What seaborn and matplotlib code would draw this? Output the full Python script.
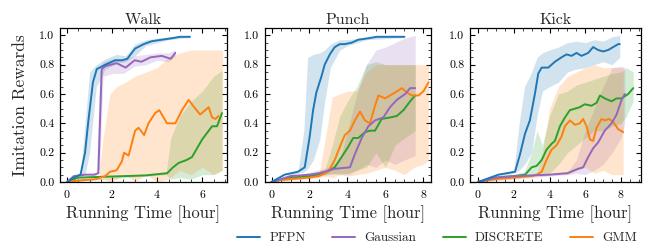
import numpy as np
import pandas as pd
import matplotlib
matplotlib.use("Agg")
import matplotlib.pyplot as plt
import seaborn as sns
from matplotlib.ticker import AutoMinorLocator

# ---------------- data ----------------
tasks = ["Walk", "Punch", "Kick"]
methods = ["PFPN", "Gaussian", "DISCRETE", "GMM"]
colors = {"PFPN": "#1f77b4", "Gaussian": "#9467bd", "DISCRETE": "#2ca02c", "GMM": "#ff7f0e"}

# Walk
walk_pfpn_x = [0, 0.3, 0.6, 0.8, 0.95, 1.15, 1.32, 1.7, 2.14, 2.44, 2.67, 3.02, 3.4, 3.76, 4.2, 4.65, 5.0, 5.45]
walk_pfpn_y = [0, 0.03, 0.05, 0.2, 0.42, 0.68, 0.77, 0.80, 0.83, 0.83, 0.84, 0.91, 0.94, 0.96, 0.97, 0.98, 0.99, 0.99]
walk_pfpn_bx = [0, 0.6, 0.8, 1.0, 1.3, 1.7, 2.2, 2.6, 3.0, 3.5, 4.5, 5.45]
walk_pfpn_lo = [0, 0.03, 0.05, 0.2, 0.65, 0.77, 0.81, 0.82, 0.86, 0.93, 0.97, 0.985]
walk_pfpn_hi = [0, 0.06, 0.4, 0.75, 0.80, 0.84, 0.87, 0.86, 0.94, 0.97, 0.99, 1.0]

walk_gauss_x = [0, 0.3, 0.8, 1.2, 1.39, 1.47, 1.54, 1.7, 2.2, 2.6, 3.0, 3.3, 3.7, 4.2, 4.6, 4.8]
walk_gauss_y = [0, 0.04, 0.05, 0.05, 0.06, 0.45, 0.77, 0.79, 0.81, 0.78, 0.83, 0.82, 0.85, 0.86, 0.84, 0.88]
walk_gauss_bx = [0, 1.3, 1.45, 1.6, 2.0, 2.5, 3.0, 3.5, 4.0, 4.5, 4.8]
walk_gauss_lo = [0, 0.04, 0.1, 0.72, 0.74, 0.74, 0.79, 0.80, 0.83, 0.82, 0.86]
walk_gauss_hi = [0, 0.06, 0.75, 0.82, 0.84, 0.84, 0.86, 0.87, 0.88, 0.88, 0.90]

walk_disc_x = [0, 0.5, 1.5, 2.5, 3.5, 4.44, 4.7, 4.95, 5.3, 5.54, 5.99, 6.43, 6.65, 6.87]
walk_disc_y = [0, 0.03, 0.035, 0.04, 0.045, 0.06, 0.10, 0.13, 0.15, 0.17, 0.29, 0.38, 0.38, 0.47]
walk_disc_bx = [0, 4.4, 4.6, 5.0, 5.5, 6.0, 6.5, 6.87]
walk_disc_lo = [0, 0.05, 0.02, 0.03, 0.02, 0.05, 0.05, 0.08]
walk_disc_hi = [0, 0.07, 0.3, 0.45, 0.55, 0.62, 0.72, 0.76]

walk_gmm_x = [0, 0.5, 1.3, 1.69, 1.91, 2.2, 2.43, 2.53, 2.73, 3.02, 3.17, 3.42, 3.61, 3.91, 4.09, 4.28, 4.43, 4.8, 5.1, 5.39, 5.69, 5.9, 6.28, 6.43, 6.58, 6.72]
walk_gmm_y = [0, 0.01, 0.02, 0.04, 0.07, 0.08, 0.14, 0.20, 0.18, 0.35, 0.37, 0.32, 0.40, 0.47, 0.49, 0.44, 0.40, 0.40, 0.49, 0.56, 0.50, 0.46, 0.51, 0.44, 0.43, 0.45]
walk_gmm_bx = [0, 1.4, 1.6, 1.9, 2.2, 2.6, 3.0, 3.5, 4.0, 4.5, 5.0, 5.5, 6.0, 6.5, 6.9]
walk_gmm_lo = [0, 0.02, 0.02, 0.0, 0.02, 0.05, 0.0, 0.05, 0.0, 0.02, 0.08, 0.05, 0.10, 0.05, 0.08]
walk_gmm_hi = [0, 0.03, 0.30, 0.60, 0.65, 0.68, 0.72, 0.75, 0.78, 0.85, 0.88, 0.90, 0.90, 0.90, 0.90]

# Punch
punch_pfpn_x = [0, 0.69, 1.39, 1.75, 2.01, 2.19, 2.36, 2.63, 2.8, 3.07, 3.33, 3.6, 3.86, 4.22, 4.57, 5.1, 5.54, 7.0]
punch_pfpn_y = [0, 0.05, 0.07, 0.10, 0.31, 0.49, 0.61, 0.72, 0.80, 0.87, 0.92, 0.94, 0.94, 0.95, 0.97, 0.98, 0.99, 0.99]
punch_pfpn_bx = [0, 1.4, 1.7, 1.9, 2.2, 2.54, 2.8, 3.1, 3.6, 4.0, 5.0, 7.0]
punch_pfpn_lo = [0, 0.06, 0.07, 0.09, 0.15, 0.29, 0.55, 0.78, 0.90, 0.93, 0.97, 0.985]
punch_pfpn_hi = [0, 0.08, 0.35, 0.85, 0.87, 0.88, 0.90, 0.94, 0.97, 0.97, 0.99, 0.995]

punch_gauss_x = [0, 1.0, 2.0, 2.5, 3.33, 4.13, 4.39, 4.75, 5.1, 5.45, 5.89, 6.24, 6.6, 7.04, 7.3, 7.57]
punch_gauss_y = [0, 0.04, 0.05, 0.06, 0.09, 0.10, 0.19, 0.30, 0.38, 0.42, 0.44, 0.51, 0.56, 0.60, 0.64, 0.64]
punch_gauss_bx = [0, 3.0, 3.6, 4.1, 4.5, 5.0, 5.5, 6.0, 6.5, 7.0, 7.57]
punch_gauss_lo = [0, 0.05, 0.06, 0.05, 0.08, 0.12, 0.10, 0.15, 0.12, 0.15, 0.18]
punch_gauss_hi = [0, 0.10, 0.15, 0.40, 0.60, 0.80, 0.90, 0.92, 0.95, 0.98, 1.0]

punch_disc_x = [0, 1.0, 2.0, 2.8, 3.33, 3.69, 4.04, 4.3, 4.57, 4.92, 5.19, 5.45, 5.8, 6.24, 6.6, 6.95, 7.3, 7.57]
punch_disc_y = [0, 0.03, 0.04, 0.06, 0.10, 0.17, 0.24, 0.30, 0.30, 0.34, 0.35, 0.35, 0.43, 0.44, 0.45, 0.49, 0.55, 0.59]
punch_disc_bx = [0, 2.8, 3.2, 3.6, 4.0, 4.5, 5.0, 5.5, 6.0, 6.5, 7.0, 7.57]
punch_disc_lo = [0, 0.05, 0.06, 0.05, 0.06, 0.08, 0.10, 0.20, 0.10, 0.25, 0.30, 0.35]
punch_disc_hi = [0, 0.08, 0.25, 0.45, 0.55, 0.65, 0.80, 0.82, 0.80, 0.80, 0.80, 0.80]

punch_gmm_x = [0, 0.16, 1.0, 2.0, 2.5, 2.98, 3.33, 3.6, 3.86, 4.13, 4.39, 4.66, 4.92, 5.19, 5.45, 5.63, 5.98, 6.24, 6.51, 6.86, 7.13, 7.39, 7.74, 8.01, 8.27]
punch_gmm_y = [0, 0.01, 0.02, 0.03, 0.04, 0.07, 0.15, 0.24, 0.32, 0.35, 0.42, 0.48, 0.42, 0.40, 0.52, 0.59, 0.57, 0.59, 0.61, 0.64, 0.61, 0.59, 0.59, 0.62, 0.68]
punch_gmm_bx = [0, 2.5, 2.9, 3.2, 3.6, 4.0, 4.5, 5.0, 5.5, 6.0, 6.5, 7.0, 7.5, 8.0, 8.27]
punch_gmm_lo = [0, 0.03, 0.04, 0.03, 0.05, 0.04, 0.05, 0.06, 0.08, 0.10, 0.08, 0.05, 0.10, 0.12, 0.15]
punch_gmm_hi = [0, 0.05, 0.35, 0.58, 0.60, 0.62, 0.62, 0.75, 0.80, 0.80, 0.80, 0.80, 0.80, 0.80, 0.80]

# Kick
kick_pfpn_x = [0, 1.14, 2.07, 2.35, 2.63, 2.9, 3.18, 3.37, 3.56, 3.93, 4.3, 4.67, 4.95, 5.23, 5.51, 5.79, 6.16, 6.44, 6.72, 7.0, 7.28, 7.56, 7.84, 7.93]
kick_pfpn_y = [0, 0.05, 0.07, 0.19, 0.33, 0.42, 0.60, 0.74, 0.78, 0.78, 0.82, 0.85, 0.87, 0.86, 0.88, 0.86, 0.88, 0.92, 0.90, 0.89, 0.90, 0.92, 0.94, 0.94]
kick_pfpn_bx = [0, 2.0, 2.3, 2.6, 3.0, 3.3, 3.6, 4.0, 4.5, 5.0, 5.5, 6.0, 6.5, 7.0, 7.5, 7.93]
kick_pfpn_lo = [0, 0.06, 0.08, 0.12, 0.20, 0.45, 0.62, 0.65, 0.68, 0.75, 0.77, 0.78, 0.80, 0.82, 0.80, 0.85]
kick_pfpn_hi = [0, 0.08, 0.40, 0.65, 0.75, 0.85, 0.88, 0.90, 0.92, 0.95, 0.96, 0.95, 0.97, 0.96, 0.99, 1.0]

kick_gauss_x = [0, 1.0, 2.0, 3.0, 4.0, 5.0, 5.6, 5.88, 6.16, 6.44, 6.72, 7.09, 7.47, 7.75, 8.03, 8.21]
kick_gauss_y = [0, 0.03, 0.04, 0.045, 0.05, 0.06, 0.09, 0.10, 0.17, 0.23, 0.27, 0.35, 0.40, 0.46, 0.56, 0.60]
kick_gauss_bx = [0, 5.0, 5.5, 6.0, 6.5, 7.0, 7.5, 8.0, 8.21]
kick_gauss_lo = [0, 0.05, 0.06, 0.05, 0.08, 0.12, 0.20, 0.30, 0.40]
kick_gauss_hi = [0, 0.07, 0.15, 0.35, 0.50, 0.65, 0.78, 0.79, 0.78]

kick_disc_x = [0, 1.0, 2.0, 2.63, 3.0, 3.28, 3.56, 3.83, 4.11, 4.3, 4.58, 4.86, 5.14, 5.42, 5.69, 5.97, 6.35, 6.63, 6.82, 7.09, 7.47, 7.75, 8.03, 8.4, 8.68]
kick_disc_y = [0, 0.03, 0.04, 0.05, 0.10, 0.11, 0.15, 0.22, 0.26, 0.28, 0.38, 0.44, 0.49, 0.50, 0.51, 0.53, 0.52, 0.54, 0.59, 0.57, 0.55, 0.57, 0.57, 0.60, 0.64]
kick_disc_bx = [0, 2.6, 3.0, 3.3, 3.6, 4.0, 4.5, 5.0, 5.5, 6.0, 6.5, 7.0, 7.5, 8.0, 8.3, 8.68]
kick_disc_lo = [0, 0.04, 0.05, 0.05, 0.05, 0.06, 0.12, 0.20, 0.25, 0.30, 0.35, 0.35, 0.38, 0.40, 0.45, 0.55]
kick_disc_hi = [0, 0.07, 0.20, 0.35, 0.25, 0.45, 0.60, 0.62, 0.66, 0.68, 0.70, 0.72, 0.74, 0.75, 0.78, 0.75]

kick_gmm_x = [0, 1.0, 2.0, 3.0, 3.28, 3.56, 3.83, 4.11, 4.39, 4.67, 4.86, 5.14, 5.42, 5.69, 5.88, 6.07, 6.26, 6.44, 6.63, 6.91, 7.09, 7.32, 7.56, 7.84, 8.12]
kick_gmm_y = [0, 0.02, 0.03, 0.04, 0.05, 0.07, 0.15, 0.22, 0.25, 0.31, 0.38, 0.42, 0.39, 0.40, 0.43, 0.38, 0.29, 0.28, 0.37, 0.43, 0.42, 0.43, 0.41, 0.36, 0.34]
kick_gmm_bx = [0, 3.3, 3.6, 4.0, 4.5, 5.0, 5.5, 6.0, 6.5, 7.0, 7.5, 8.12]
kick_gmm_lo = [0, 0.04, 0.04, 0.05, 0.06, 0.05, 0.08, 0.10, 0.06, 0.08, 0.05, 0.05]
kick_gmm_hi = [0, 0.06, 0.20, 0.50, 0.65, 0.72, 0.75, 0.78, 0.80, 0.78, 0.78, 0.78]

series = {
    "Walk": {
        "PFPN": (walk_pfpn_x, walk_pfpn_y, walk_pfpn_bx, walk_pfpn_lo, walk_pfpn_hi),
        "Gaussian": (walk_gauss_x, walk_gauss_y, walk_gauss_bx, walk_gauss_lo, walk_gauss_hi),
        "DISCRETE": (walk_disc_x, walk_disc_y, walk_disc_bx, walk_disc_lo, walk_disc_hi),
        "GMM": (walk_gmm_x, walk_gmm_y, walk_gmm_bx, walk_gmm_lo, walk_gmm_hi),
    },
    "Punch": {
        "PFPN": (punch_pfpn_x, punch_pfpn_y, punch_pfpn_bx, punch_pfpn_lo, punch_pfpn_hi),
        "Gaussian": (punch_gauss_x, punch_gauss_y, punch_gauss_bx, punch_gauss_lo, punch_gauss_hi),
        "DISCRETE": (punch_disc_x, punch_disc_y, punch_disc_bx, punch_disc_lo, punch_disc_hi),
        "GMM": (punch_gmm_x, punch_gmm_y, punch_gmm_bx, punch_gmm_lo, punch_gmm_hi),
    },
    "Kick": {
        "PFPN": (kick_pfpn_x, kick_pfpn_y, kick_pfpn_bx, kick_pfpn_lo, kick_pfpn_hi),
        "Gaussian": (kick_gauss_x, kick_gauss_y, kick_gauss_bx, kick_gauss_lo, kick_gauss_hi),
        "DISCRETE": (kick_disc_x, kick_disc_y, kick_disc_bx, kick_disc_lo, kick_disc_hi),
        "GMM": (kick_gmm_x, kick_gmm_y, kick_gmm_bx, kick_gmm_lo, kick_gmm_hi),
    },
}
xlims = {"Walk": (-0.31, 7.07), "Punch": (-0.37, 8.4), "Kick": (-0.45, 9.1)}
xticks = {"Walk": [0, 2, 4, 6], "Punch": [0, 2, 4, 6, 8], "Kick": [0, 2, 4, 6, 8]}
yticks = [0.0, 0.2, 0.4, 0.6, 0.8, 1.0]

# ---------------- style ----------------
sns.set_theme(style="ticks")
plt.rcParams.update({
    "font.family": ["cmr10", "DejaVu Serif"],
    "mathtext.fontset": "cm",
    "axes.formatter.use_mathtext": True,
    "axes.unicode_minus": False,
    "xtick.direction": "in",
    "ytick.direction": "in",
    "xtick.top": True,
    "ytick.right": True,
    "axes.edgecolor": "black",
    "axes.linewidth": 0.9,
})

fig = plt.figure(figsize=(6.57, 2.48), dpi=100)
W, H = 657.0, 248.0
boxes = {"Walk": (60, 226.5), "Punch": (264.5, 431), "Kick": (470, 640.7)}
top_px, bot_px = 28, 182

order = ["DISCRETE", "GMM", "Gaussian", "PFPN"]
for task in tasks:
    l, r = boxes[task]
    ax = fig.add_axes([l / W, 1 - bot_px / H, (r - l) / W, (bot_px - top_px) / H])
    for m in methods:
        x, y, bx, lo, hi = series[task][m]
        ax.fill_between(bx, lo, hi, color=colors[m], alpha=0.2, lw=0)
    for m in order:
        x, y, bx, lo, hi = series[task][m]
        sns.lineplot(x=x, y=y, ax=ax, color=colors[m], lw=1.4, legend=False)
    ax.set_xlim(*xlims[task])
    ax.set_ylim(0, 1.05)
    ax.set_xticks(xticks[task])
    ax.set_yticks(yticks)
    ax.set_yticklabels([f"{v:.1f}" for v in yticks])
    ax.xaxis.set_minor_locator(AutoMinorLocator(4))
    ax.yaxis.set_minor_locator(AutoMinorLocator(4))
    ax.tick_params(which="major", length=3.5, width=0.8, labelsize=8.5, pad=4, colors="black")
    ax.tick_params(which="minor", length=2, width=0.6)
    ax.set_title(task, fontsize=11.5, pad=3)
    ax.set_xlabel("Running Time [hour]", fontsize=12, labelpad=4)
    if task == "Walk":
        ax.set_ylabel("Imitation Rewards", fontsize=12.5, labelpad=8)
    else:
        ax.set_ylabel("")

handles = [plt.Line2D([], [], color=colors[m], lw=1.4) for m in methods]
fig.legend(handles, methods, loc="center", bbox_to_anchor=(437 / W, 1 - 238 / H), ncol=4,
           frameon=False, fontsize=9.5, handlelength=1.75, columnspacing=2.0, handletextpad=0.7)

fig.savefig("out.png", dpi=100)
